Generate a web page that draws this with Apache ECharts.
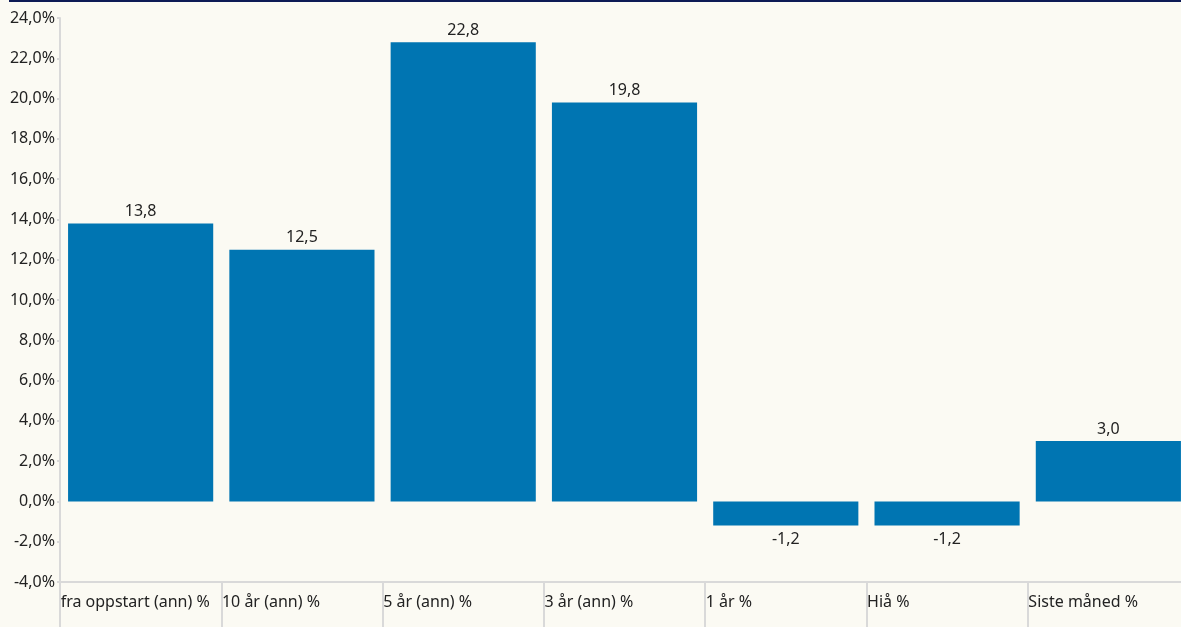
<!DOCTYPE html>
<html><head><meta charset="utf-8">
<script src="https://cdn.jsdelivr.net/npm/echarts@6/dist/echarts.min.js"></script>
<style>html,body{margin:0;padding:0;background:#fbfaf3;overflow:hidden;width:1181px;height:627px;}#c{width:1190px;height:627px;}</style>
</head><body><div id="c"></div>
<script>
const categories = ['fra oppstart (ann) %','10 år (ann) %','5 år (ann) %','3 år (ann) %','1 år %','Hiå %','Siste måned %'];
const values = [13.8, 12.5, 22.8, 19.8, -1.2, -1.2, 3.0];
const yTicks = { min: -4, max: 24, interval: 2 };

const chart = echarts.init(document.getElementById('c'), null, {renderer:'canvas'});
const fmt = v => v.toFixed(1).replace('.', ',');
chart.setOption({
  backgroundColor: '#fbfaf3',
  animation: false,
  textStyle: { fontFamily: 'Noto Sans' },
  graphic: [{ type: 'rect', left: 9, top: 0, shape: { width: 1172, height: 2 }, style: { fill: '#0d1a55' } }],
  grid: { left: 60, top: 18, right: 1, bottom: 45 },
  xAxis: {
    type: 'category', data: categories, boundaryGap: true,
    axisLine: { onZero: false, lineStyle: { color: '#d9d9d9', width: 2 } },
    axisTick: { show: true, length: 45, lineStyle: { color: '#d9d9d9', width: 2 } },
    axisLabel: { color: '#222', fontSize: 16, margin: 12, interval: 0,
      formatter: '{a|{value}}', rich: { a: { width: 160, align: 'left', fontSize: 16, color: '#222', fontFamily: 'Noto Sans' } } },
    splitLine: { show: false }
  },
  yAxis: {
    type: 'value', min: yTicks.min, max: yTicks.max, interval: yTicks.interval,
    axisLine: { show: true, lineStyle: { color: '#d9d9d9', width: 2 } },
    axisTick: { show: true, length: 3, lineStyle: { color: '#d9d9d9', width: 2 } },
    axisLabel: { color: '#222', fontSize: 16, margin: 5, formatter: v => fmt(v) + '%' },
    splitLine: { show: false }
  },
  series: [{
    type: 'bar', barCategoryGap: '10%',
    itemStyle: { color: '#0075b2' },
    label: { show: true, color: '#222', fontSize: 16, distance: 4, formatter: p => fmt(p.value) },
    data: values.map(v => ({ value: v, label: { position: v < 0 ? 'bottom' : 'top', distance: v < 0 ? 6 : 4 } }))
  }]
});
</script></body></html>
